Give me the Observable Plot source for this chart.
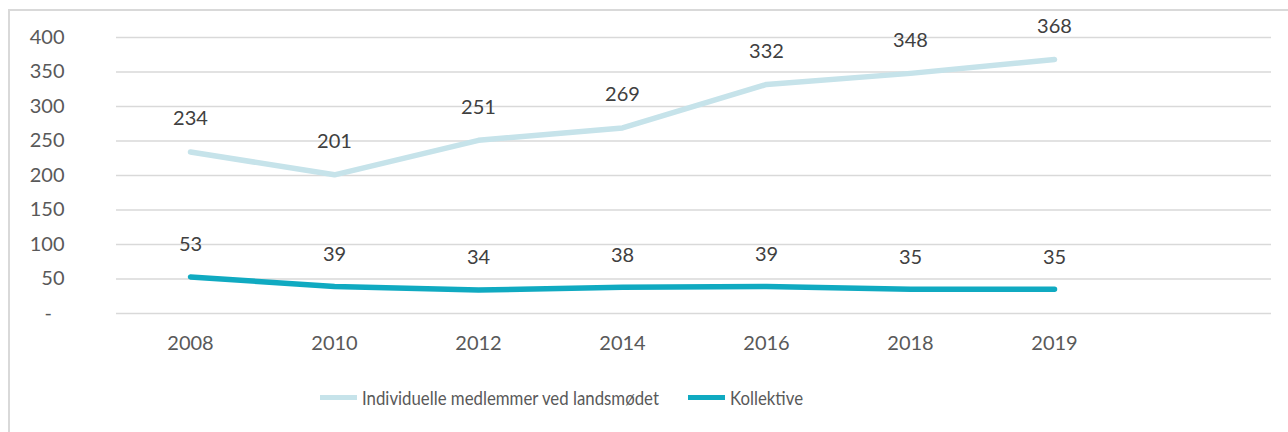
<!DOCTYPE html>
<html>
<head>
<meta charset="utf-8">
<script src="https://cdn.jsdelivr.net/npm/d3@7"></script>
<script src="https://cdn.jsdelivr.net/npm/@observablehq/plot@0.6"></script>
<style>
  html, body { margin: 0; padding: 0; background: #fff; }
  #wrap { position: relative; width: 1288px; height: 432px; overflow: hidden; font-family: Lato, "Open Sans", sans-serif; }
  #frame { position: absolute; left: 8px; top: 9px; width: 1400px; height: 600px; border-left: 2px solid #d9d9d9; border-top: 2px solid #d9d9d9; box-sizing: border-box; }
  #chart { position: absolute; left: 0; top: 0; }
  #legend { position: absolute; left: 0; top: 384px; width: 1288px; height: 26px; font-size: 20px; color: #595959; }
  .item { position: absolute; top: 0; display: flex; align-items: center; height: 26px; white-space: nowrap; }
  .sw { width: 37px; height: 5px; margin-right: 5px; flex: none; }
  .lab { display: inline-block; transform: scaleX(0.84); transform-origin: 0 50%; }
</style>
</head>
<body>
<div id="wrap">
  <div id="frame"></div>
  <div id="chart"></div>
  <div id="legend"></div>
</div>
<script>
const years = ["2008", "2010", "2012", "2014", "2016", "2018", "2019"];
const individuelle = [234, 201, 251, 269, 332, 348, 368];
const kollektive = [53, 39, 34, 38, 39, 35, 35];
const seriesNames = ["Individuelle medlemmer ved landsmødet", "Kollektive"];
const seriesColors = ["#c6e3ea", "#10aac1"];
const yTicks = [0, 50, 100, 150, 200, 250, 300, 350, 400];

const rowsA = years.map((y, i) => ({year: y, value: individuelle[i]}));
const rowsB = years.map((y, i) => ({year: y, value: kollektive[i]}));
const xDomain = [...years, " "];

const plot = Plot.plot({
  width: 1288,
  height: 432,
  marginLeft: 116,
  marginRight: 17,
  marginTop: 37,
  marginBottom: 119,
  style: {fontFamily: "Lato, 'Open Sans', sans-serif", fontSize: "20px", color: "#595959", background: "transparent"},
  x: {type: "point", domain: xDomain, padding: 0.5, label: null},
  y: {domain: [0, 400], label: null},
  marks: [
    Plot.gridY(yTicks, {stroke: "#d9d9d9", strokeOpacity: 1, strokeWidth: 1.5}),
    Plot.axisY(yTicks, {tickSize: 0, tickPadding: 52, label: null, fill: "#595959",
      tickFormat: d => d === 0 ? "-\u2002\u2009" : String(d)}),
    Plot.axisX(years, {tickSize: 0, tickPadding: 22, label: null, fill: "#595959"}),
    Plot.line(rowsA, {x: "year", y: "value", stroke: seriesColors[0], strokeWidth: 5.5, strokeLinejoin: "round"}),
    Plot.line(rowsB, {x: "year", y: "value", stroke: seriesColors[1], strokeWidth: 5.5, strokeLinejoin: "round"}),
    Plot.text(rowsA, {x: "year", y: "value", text: d => String(d.value), dy: -33, fill: "#404040", fontSize: 20}),
    Plot.text(rowsB, {x: "year", y: "value", text: d => String(d.value), dy: -32, fill: "#404040", fontSize: 20})
  ]
});
document.getElementById("chart").appendChild(plot);

const legend = document.getElementById("legend");
const legendLeft = [320, 688];
seriesNames.forEach((name, i) => {
  const item = document.createElement("div");
  item.className = "item";
  item.style.left = legendLeft[i] + "px";
  const sw = document.createElement("div");
  sw.className = "sw";
  sw.style.background = seriesColors[i];
  const label = document.createElement("span");
  label.className = "lab";
  label.textContent = name;
  item.appendChild(sw);
  item.appendChild(label);
  legend.appendChild(item);
});
</script>
</body>
</html>
